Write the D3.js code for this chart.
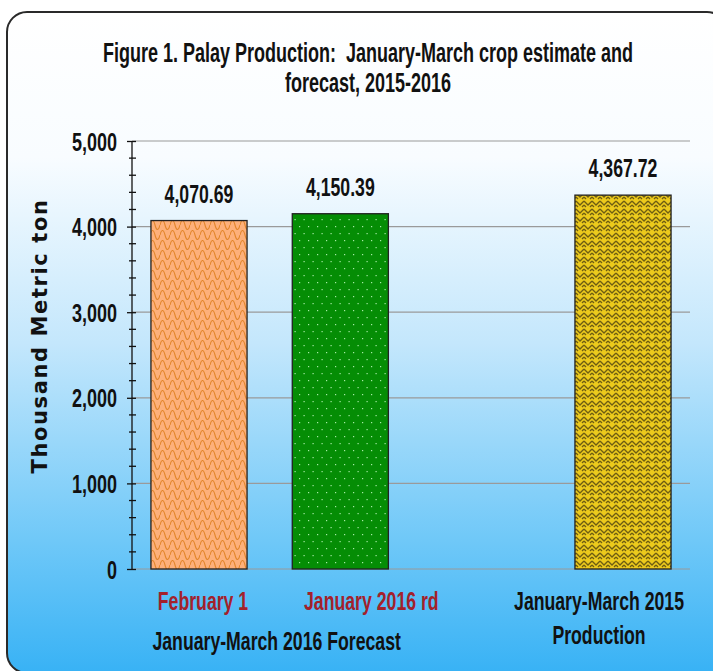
<!DOCTYPE html>
<html><head><meta charset="utf-8">
<script src="https://cdn.jsdelivr.net/npm/d3@7"></script>
<style>
html,body{margin:0;padding:0;background:#fff;}
svg{display:block;}
</style></head>
<body>
<svg id="chart" width="713" height="671"></svg>
<script>
// ---- data ----
const categories = ["February 1", "January 2016 rd", "", "January-March 2015"];
const values = [4070.69, 4150.39, null, 4367.72];
const valueLabels = ["4,070.69", "4,150.39", "", "4,367.72"];
const yTicks = [0, 1000, 2000, 3000, 4000, 5000];
const titleLines = ["Figure 1. Palay Production:  January-March crop estimate and", "forecast, 2015-2016"];
const yTitle = "Thousand Metric ton";
const groupLabel = "January-March 2016 Forecast";
const secondLine = ["", "", "", "Production"];

const FONT = "'Liberation Sans',Arial,sans-serif";
const svg = d3.select("#chart");
const defs = svg.append("defs");

function narrowText(sel, size, color) {
  return sel.attr("font-family", FONT).attr("font-weight", "bold")
    .attr("font-size", size).attr("fill", color || "#111")
    .style("white-space", "pre");
}
// condensed bold text: horizontal squeeze to mimic a narrow face
function place(sel, fx, fy, sx) {
  return sel.attr("transform", (d, i) => `translate(${fx(d, i)},${fy(d, i)}) scale(${sx},1)`);
}

// background gradient
const g = defs.append("linearGradient").attr("id","bg").attr("x1",0).attr("y1",0).attr("x2",0).attr("y2",1);
g.append("stop").attr("offset","0").attr("stop-color","#ffffff");
g.append("stop").attr("offset","0.22").attr("stop-color","#f8fcff");
g.append("stop").attr("offset","0.5").attr("stop-color","#c4e7fc");
g.append("stop").attr("offset","0.8").attr("stop-color","#6fc8f8");
g.append("stop").attr("offset","1").attr("stop-color","#38b2f5");

// patterns
const p1 = defs.append("pattern").attr("id","pat1").attr("patternUnits","userSpaceOnUse").attr("width",10).attr("height",10);
p1.append("rect").attr("width",10).attr("height",10).attr("fill","#fdb07a");
p1.append("path").attr("d","M0,5 C1.5,-1 3.5,-1 5,5 C6.5,11 8.5,11 10,5")
  .attr("fill","none").attr("stroke","#e3862b").attr("stroke-width",1.1);

const p2 = defs.append("pattern").attr("id","pat2").attr("patternUnits","userSpaceOnUse").attr("width",9).attr("height",14);
p2.append("rect").attr("width",9).attr("height",14).attr("fill","#058d05");
p2.append("rect").attr("x",2).attr("y",2).attr("width",1.2).attr("height",1.2).attr("fill","#a6eca6");
p2.append("rect").attr("x",6.5).attr("y",9).attr("width",1.2).attr("height",1.2).attr("fill","#a6eca6");

const p3 = defs.append("pattern").attr("id","pat3").attr("patternUnits","userSpaceOnUse").attr("width",8).attr("height",8);
p3.append("rect").attr("width",8).attr("height",8).attr("fill","#ecca1c");
p3.append("path").attr("d","M0,1 L4,5 L8,1 M0,5 L2,7 M6,7 L8,5").attr("fill","none").attr("stroke","#6e5d12").attr("stroke-width",1.3);

const pats = ["url(#pat1)","url(#pat2)",null,"url(#pat3)"];

// frame (runs off the right and bottom edges)
svg.append("rect").attr("x",7).attr("y",12).attr("width",720).attr("height",661)
  .attr("rx",20).attr("ry",20).attr("fill","url(#bg)").attr("stroke","#2a2a2a").attr("stroke-width",2);

// scales
const x = d3.scaleBand().domain(d3.range(categories.length)).range([132,690]).paddingInner(0.32).paddingOuter(0.134);
const y = d3.scaleLinear().domain([0,5000]).range([569,141]);

// gridlines
svg.append("g").selectAll("line").data(yTicks).join("line")
  .attr("x1",132).attr("x2",690).attr("y1",d=>y(d)).attr("y2",d=>y(d))
  .attr("stroke","#9a9a9a").attr("stroke-width",1.2);

// bars
const idx = d3.range(categories.length).filter(i=>values[i]!=null);
svg.append("g").selectAll("rect").data(idx).join("rect")
  .attr("x",i=>x(i)).attr("width",x.bandwidth())
  .attr("y",i=>y(values[i])).attr("height",i=>y(0)-y(values[i]))
  .attr("fill",i=>pats[i]).attr("stroke","#222").attr("stroke-width",1.3);

// value labels
place(narrowText(svg.append("g").selectAll("text").data(idx).join("text"), 26)
  .attr("text-anchor","middle").text(i=>valueLabels[i]),
  i=>x(i)+x.bandwidth()/2, i=>y(values[i])-18, 0.68);

// y axis
const axis = d3.axisLeft(y).tickValues(yTicks).tickSize(5).tickFormat(d3.format(","));
const ag = svg.append("g").attr("transform","translate(132,0)").call(axis);
ag.select(".domain").attr("stroke","#111").attr("stroke-width",1.3).attr("d","M0,"+y(0)+"V"+y(5000));
ag.selectAll(".tick line").attr("stroke","#111").attr("stroke-width",1.3).attr("x1",4);
narrowText(ag.selectAll(".tick text"), 25).attr("x",0).attr("dy","0.36em")
  .attr("transform","translate(-15,0) scale(0.72,1)");
// minor ticks
const minor = d3.range(0,5001,200).filter(v=>v%1000!==0);
svg.append("g").selectAll("line").data(minor).join("line")
  .attr("x1",129).attr("x2",136).attr("y1",d=>y(d)).attr("y2",d=>y(d))
  .attr("stroke","#111").attr("stroke-width",1.3);

// y title
svg.append("text").attr("transform","translate(47,336) rotate(-90)")
  .attr("text-anchor","middle").attr("font-family","'DejaVu Sans',Verdana,sans-serif")
  .attr("font-weight","bold").attr("font-size",21).attr("letter-spacing",1.6)
  .attr("fill","#111").text(yTitle);

// title
place(narrowText(svg.append("g").selectAll("text").data(titleLines).join("text"), 27)
  .attr("text-anchor","middle").text(d=>d),
  ()=>368, (d,i)=>62+i*30, 0.667);

// category labels
const offsets = [4, 31, 0, -24];
const catColors = ["#a3212b","#a3212b","#111","#111"];
place(narrowText(svg.append("g").selectAll("text").data(idx).join("text"), 26)
  .attr("text-anchor","middle").attr("fill",i=>catColors[i]).text(i=>categories[i]),
  i=>x(i)+x.bandwidth()/2+offsets[i], ()=>610, 0.68);
place(narrowText(svg.append("g").selectAll("text").data(idx.filter(i=>secondLine[i])).join("text"), 26)
  .attr("text-anchor","middle").text(i=>secondLine[i]),
  i=>x(i)+x.bandwidth()/2+offsets[i], ()=>644, 0.68);
place(narrowText(svg.append("g").selectAll("text").data([groupLabel]).join("text"), 26)
  .attr("text-anchor","middle").text(d=>d),
  ()=>(x(0)+x(1)+x.bandwidth())/2+7, ()=>650, 0.68);
</script>
</body></html>
